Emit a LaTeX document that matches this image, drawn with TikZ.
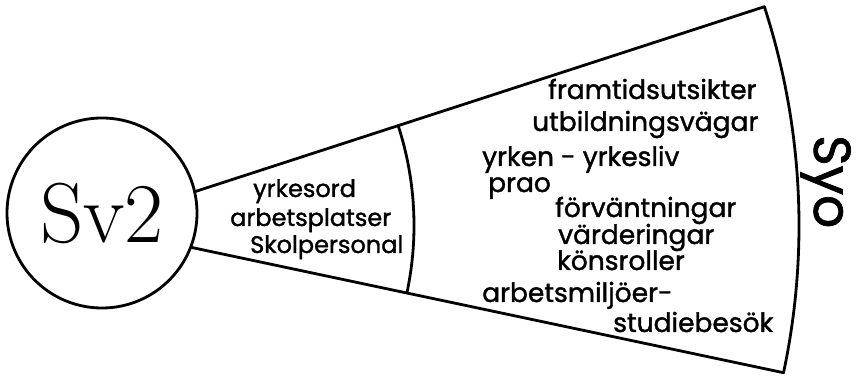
\documentclass[tikz,border=0pt]{standalone}
\usepackage{fontspec}
\newfontfamily\hand[FakeBold=1.4]{Poppins}
\usetikzlibrary{positioning}

\tikzset{
  word/.style={anchor=base west, inner sep=0pt, font=\hand\fontsize{26.5}{30}\selectfont},
  leftword/.style={word, font=\hand\fontsize{24}{28}\selectfont},
  rim/.style={line width=2.8pt, line join=round, line cap=round}
}

\begin{document}
\begin{tikzpicture}[x=1pt,y=1pt]
\useasboundingbox (0,0) rectangle (857,380);
\coordinate (apex) at (91,154.5);
\node[circle, draw, rim, minimum size=190pt, inner sep=0pt, font=\fontsize{85}{85}\selectfont] (sv) at (102,167) {Sv2};
\coordinate (midtop) at ([shift={(apex)}]18:323);
\coordinate (endtop) at ([shift={(apex)}]18:708);
\draw[rim] (sv.13) -- (endtop) arc[start angle=18, end angle=-12, radius=708] -- (sv.-21);
\draw[rim] (midtop) arc[start angle=18, end angle=-12, radius=323];
\node[leftword] (w1) at (253,183) {yrkesord};
\node[leftword] (w2) at (230,154) {arbetsplatser};
\node[leftword] (w3) at (250,127) {Skolpersonal};
\node[word] (r1) at (548,281) {framtidsutsikter};
\node[word] (r2) at (532,249) {utbildningsvägar};
\node[word] (r3) at (482,214) {yrken - yrkesliv};
\node[word] (r4) at (488,188) {prao};
\node[word] (r5) at (555,163) {förväntningar};
\node[word] (r6) at (558,136) {värderingar};
\node[word] (r7) at (557,110) {könsroller};
\node[word] (r8) at (482,78) {arbetsmiljöer-};
\node[word] (r9) at (613,48) {studiebesök};
\node[anchor=base west, inner sep=0pt, rotate=-90, font=\hand\fontsize{52}{52}\selectfont] (syo) at (814,245) {Syo};
\end{tikzpicture}
\end{document}
